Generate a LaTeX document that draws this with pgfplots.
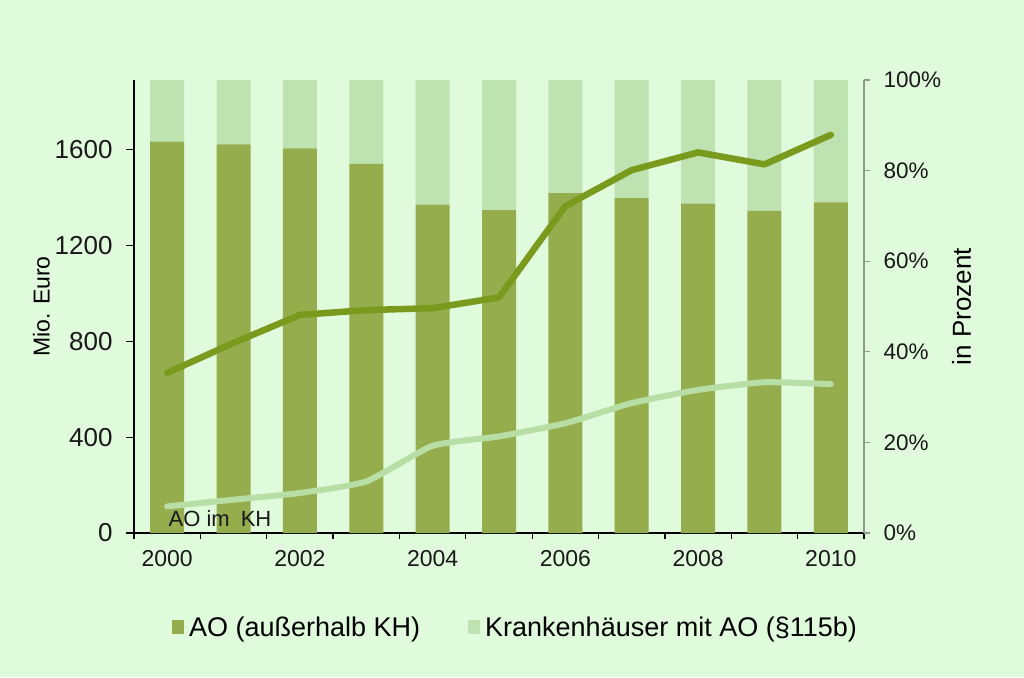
\documentclass[border=0pt]{standalone}
\usepackage{pgfplots}
\pgfplotsset{compat=1.18}
\usepackage{fontspec}
\setmainfont{Liberation Sans}
\definecolor{bg}{RGB}{224,250,220}
\definecolor{darkbar}{RGB}{150,173,78}
\definecolor{lightbar}{RGB}{190,226,176}
\definecolor{darkline}{RGB}{122,154,30}
\definecolor{lightline}{RGB}{183,222,165}
\definecolor{raxis}{RGB}{140,155,140}
\begin{document}
\begin{tikzpicture}[x=1pt,y=1pt]
\fill[bg] (0,0) rectangle (1024,677);
\useasboundingbox (0,0) rectangle (1024,677);
% bars (share in percent, right axis)
\begin{axis}[
  at={(134pt,144pt)}, anchor=south west,
  width=730pt, height=453pt, scale only axis,
  xmin=1999.5, xmax=2010.5, ymin=0, ymax=100,
  axis x line*=bottom, axis y line*=right,
  ybar stacked, bar width=34pt,
  xtick={1999.5,2000.5,...,2010.5}, xticklabels={},
  extra x ticks={2000,2002,2004,2006,2008,2010},
  extra x tick labels={2000,2002,2004,2006,2008,2010},
  extra x tick style={major tick length=0pt},
  ytick={0,20,...,100},
  yticklabel={\pgfmathprintnumber{\tick}\%},
  /pgf/number format/assume math mode=true,
  tick align=outside, major tick length=6pt,
  x axis line style={black, line width=1.2pt},
  y axis line style={raxis, line width=1.2pt},
  xtick style={black, line width=1.2pt},
  ytick style={raxis, line width=1.2pt},
  ticklabel style={font=\fontsize{22.5}{26}\selectfont, text=black!90},
  xticklabel style={yshift=-14pt, font=\fontsize{23}{27}\selectfont},
  yticklabel style={xshift=10pt},
  ylabel={in Prozent},
  ylabel style={font=\fontsize{26}{30}\selectfont},
  ylabel shift=4pt,
  legend style={draw=none, fill=none, at={(0.5226,-0.2075)}, anchor=center,
    legend columns=2, font=\fontsize{27}{31}\selectfont,
    /tikz/every even column/.append style={column sep=46pt}},
  legend cell align=left,
  legend image code/.code={\fill[#1] (0pt,-7pt) rectangle (12pt,7pt); \path (0pt,0pt) -- (15pt,0pt);},
]
\addplot+[draw=none, fill=darkbar] coordinates {
 (2000,86.4) (2001,85.8) (2002,84.9) (2003,81.5) (2004,72.5) (2005,71.3)
 (2006,75.0) (2007,73.9) (2008,72.7) (2009,71.1) (2010,73.0)};
\addlegendentry{AO (außerhalb KH)}
\addplot+[draw=none, fill=lightbar] coordinates {
 (2000,13.6) (2001,14.2) (2002,15.1) (2003,18.5) (2004,27.5) (2005,28.7)
 (2006,25.0) (2007,26.1) (2008,27.3) (2009,28.9) (2010,27.0)};
\addlegendentry{Krankenhäuser mit AO (§115b)}
\end{axis}
% lines (Mio. Euro, left axis)
\begin{axis}[
  at={(134pt,144pt)}, anchor=south west,
  width=730pt, height=453pt, scale only axis,
  xmin=1999.5, xmax=2010.5, ymin=0, ymax=1890,
  axis x line=none, axis y line*=left,
  ytick={0,400,...,1600},
  /pgf/number format/1000 sep={},
  /pgf/number format/assume math mode=true,
  tick align=outside, major tick length=8pt,
  y axis line style={black, line width=1.2pt},
  ytick style={black, line width=1.2pt},
  ticklabel style={font=\fontsize{26}{30}\selectfont, text=black!90},
  yticklabel style={xshift=-10pt},
  ylabel={Mio. Euro},
  ylabel style={font=\fontsize{23}{27}\selectfont},
  ylabel shift=-2pt,
  clip=false,
]
\addplot[darkline, line width=6.5pt, line join=round, line cap=round] coordinates {
 (2000,668) (2001,793) (2002,910) (2003,930) (2004,938) (2005,983)
 (2006,1364) (2007,1514) (2008,1588) (2009,1538) (2010,1661)};
\addplot[lightline, line width=6pt, smooth, tension=0.3, line cap=round] coordinates {
 (2000,111) (2001,139) (2002,167) (2003,215) (2004,364) (2005,403)
 (2006,458) (2007,542) (2008,597) (2009,629) (2010,621)};
\node[anchor=base west, inner sep=0pt, font=\fontsize{22}{26}\selectfont, text=black!90]
  at (axis cs:2000.02,26) {AO im\hspace{0.5em}KH};
\end{axis}
\end{tikzpicture}
\end{document}
